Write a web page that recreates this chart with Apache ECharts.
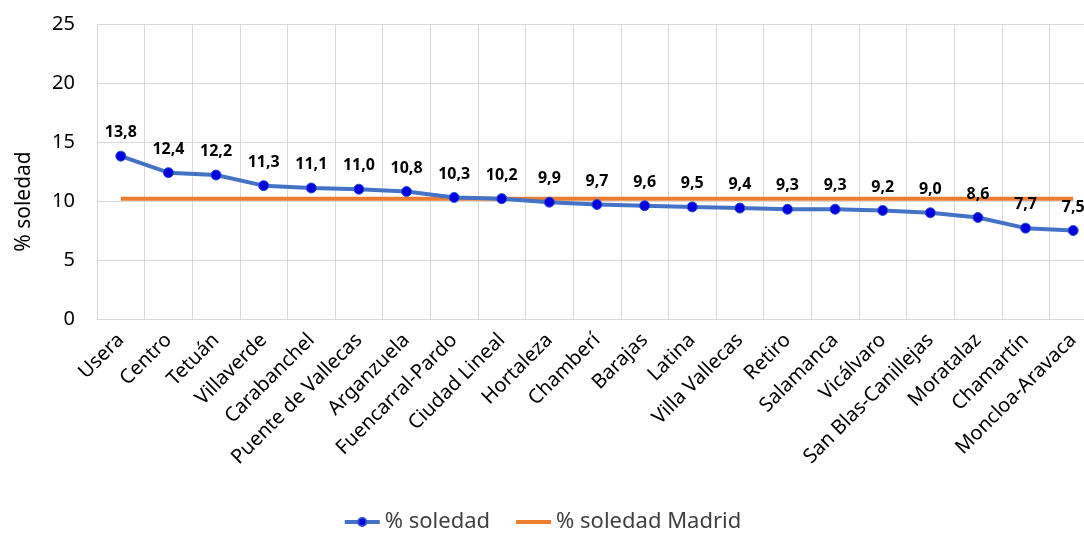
<!DOCTYPE html>
<html>
<head>
<meta charset="utf-8">
<script src="https://cdn.jsdelivr.net/npm/echarts@6/dist/echarts.min.js"></script>
<style>
  html, body { margin: 0; padding: 0; background: #fff; }
  #chart { width: 1084px; height: 536px; }
</style>
</head>
<body>
<div id="chart"></div>
<script>
var distritos = ['Usera', 'Centro', 'Tetuán', 'Villaverde', 'Carabanchel', 'Puente de Vallecas',
    'Arganzuela', 'Fuencarral-Pardo', 'Ciudad Lineal', 'Hortaleza', 'Chamberí', 'Barajas',
    'Latina', 'Villa Vallecas', 'Retiro', 'Salamanca', 'Vicálvaro', 'San Blas-Canillejas',
    'Moratalaz', 'Chamartín', 'Moncloa-Aravaca'];
var soledad = [13.8, 12.4, 12.2, 11.3, 11.1, 11.0, 10.8, 10.3, 10.2, 9.9, 9.7, 9.6,
    9.5, 9.4, 9.3, 9.3, 9.2, 9.0, 8.6, 7.7, 7.5];
var soledadMadrid = distritos.map(function () { return 10.2; });

var fontFam = "'Noto Sans', 'Open Sans', sans-serif";

var option = {
    animation: false,
    grid: { left: 97, top: 24, width: 1000, height: 295, containLabel: false, outerBoundsMode: 'none' },
    legend: {
        bottom: -2,
        left: 'center',
        itemWidth: 35,
        itemHeight: 10,
        itemGap: 26,
        lineStyle: { width: 4 },
        textStyle: { fontSize: 22, color: '#404040', fontFamily: fontFam },
        data: [
            { name: '% soledad' },
            { name: '% soledad Madrid', icon: 'path://M0,0 L36,0 L36,4 L0,4 Z' }
        ]
    },
    xAxis: {
        type: 'category',
        data: distritos,
        boundaryGap: true,
        axisLine: { lineStyle: { color: '#d9d9d9', width: 1 } },
        axisTick: { show: false },
        splitLine: { show: true, lineStyle: { color: '#d9d9d9', width: 1 } },
        axisLabel: {
            rotate: 45,
            interval: 0,
            fontSize: 20,
            color: '#000',
            fontFamily: fontFam,
            margin: 18
        }
    },
    yAxis: {
        type: 'value',
        min: 0,
        max: 25,
        interval: 5,
        name: '% soledad',
        nameLocation: 'middle',
        nameGap: 62,
        nameTextStyle: { fontSize: 21, color: '#000', fontFamily: fontFam, padding: [0, 60, 0, 0] },
        axisLine: { show: false },
        axisTick: { show: false },
        splitLine: { lineStyle: { color: '#d9d9d9', width: 1 } },
        axisLabel: { fontSize: 20, color: '#000', fontFamily: fontFam, margin: 22 }
    },
    series: [
        {
            name: '% soledad',
            type: 'line',
            data: soledad,
            z: 3,
            symbol: 'circle',
            symbolSize: 10,
            lineStyle: { color: '#4472C4', width: 4 },
            itemStyle: { color: '#0000DD', borderColor: '#2a4fd0', borderWidth: 1 },
            label: {
                show: true,
                position: 'top',
                distance: 10,
                fontSize: 16,
                fontWeight: 'bold',
                color: '#000',
                fontFamily: fontFam,
                formatter: function (p) { return p.value.toFixed(1).replace('.', ','); }
            }
        },
        {
            name: '% soledad Madrid',
            type: 'line',
            data: soledadMadrid,
            z: 2,
            symbol: 'none',
            showSymbol: false,
            lineStyle: { color: '#ED7D31', width: 4 },
            itemStyle: { color: '#ED7D31' }
        }
    ]
};

var chart = echarts.init(document.getElementById('chart'));
chart.setOption(option);
</script>
</body>
</html>
